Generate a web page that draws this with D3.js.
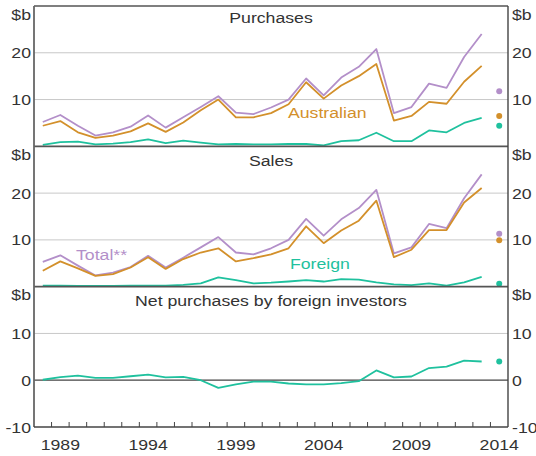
<!DOCTYPE html>
<html>
<head>
<meta charset="utf-8">
<script src="https://cdn.jsdelivr.net/npm/d3@7"></script>
<style>
  body { margin: 0; background: #fff; }
  svg text { font-family: "Liberation Sans", Arial, sans-serif; fill: #333; }
</style>
</head>
<body>
<div id="container"></div>
<script>
// annual data, plotted at mid-year; last dot is 2014
const years = [1988, 1989, 1990, 1991, 1992, 1993, 1994, 1995, 1996, 1997, 1998, 1999, 2000,
    2001, 2002, 2003, 2004, 2005, 2006, 2007, 2008, 2009, 2010, 2011, 2012, 2013];
const purchTotal = [5.2, 6.7, 4.4, 2.3, 3.0, 4.2, 6.6, 4.0, 6.2, 8.4, 10.7, 7.2, 6.9,
    8.3, 10.0, 14.5, 10.9, 14.7, 17.0, 20.8, 7.1, 8.4, 13.4, 12.5, 19.1, 24.0];
const purchAus = [4.4, 5.4, 3.0, 1.8, 2.3, 3.2, 4.9, 3.1, 5.1, 7.7, 10.0, 6.2, 6.2,
    7.1, 9.0, 13.7, 10.2, 13.0, 15.0, 17.6, 5.5, 6.5, 9.5, 9.1, 13.8, 17.2];
const purchFor = [0.3, 0.9, 1.0, 0.4, 0.6, 0.9, 1.5, 0.7, 1.2, 0.8, 0.4, 0.5, 0.4,
    0.4, 0.5, 0.5, 0.2, 1.1, 1.3, 2.9, 1.1, 1.1, 3.4, 3.0, 5.0, 6.1];
const salesTotal = [5.3, 6.7, 4.5, 2.4, 3.0, 4.2, 6.6, 4.1, 6.2, 8.4, 10.6, 7.3, 6.9,
    8.2, 10.0, 14.5, 10.9, 14.4, 16.8, 20.7, 7.1, 8.4, 13.4, 12.5, 18.9, 24.0];
const salesAus = [3.4, 5.4, 3.9, 2.3, 2.7, 4.1, 6.3, 3.8, 5.9, 7.3, 8.2, 5.4, 6.1,
    6.9, 8.2, 12.9, 9.3, 12.0, 14.1, 18.4, 6.3, 7.9, 12.1, 12.1, 18.0, 21.1];
const salesFor = [0.2, 0.2, 0.15, 0.15, 0.15, 0.2, 0.2, 0.2, 0.4, 0.7, 2.0, 1.4, 0.7,
    0.85, 1.1, 1.4, 1.1, 1.6, 1.5, 0.9, 0.5, 0.35, 0.7, 0.2, 0.9, 2.1];
const netFor = [0.1, 0.65, 1.0, 0.5, 0.5, 0.85, 1.2, 0.6, 0.7, 0, -1.65, -0.9, -0.3,
    -0.3, -0.7, -0.9, -0.9, -0.6, -0.2, 2.1, 0.6, 0.8, 2.6, 2.9, 4.2, 4.0];
const dotYear = 2014;
const purchDots = [11.8, 6.5, 4.4];   // total, australian, foreign
const salesDots = [11.3, 9.9, 0.6];
const netDots = [4.0];
const xTickYears = [1989, 1990, 1991, 1992, 1993, 1994, 1995, 1996, 1997, 1998, 1999, 2000, 2001,
    2002, 2003, 2004, 2005, 2006, 2007, 2008, 2009, 2010, 2011, 2012, 2013, 2014];
const xLabelYears = [1989, 1994, 1999, 2004, 2009, 2014];

const PURPLE = "#b38fc9", ORANGE = "#d3902b", GREEN = "#1fc19e";
const W = 536, H = 456;
const plotL = 34, plotR = 508, plotT = 6, plotB = 427;
const panelH = (plotB - plotT) / 3;
const SX = 1.14; // text in the picture is a bit wide

const svg = d3.select("#container").append("svg")
    .attr("width", W).attr("height", H);

const x = d3.scaleLinear().domain([1988, 2015]).range([plotL, plotR]);

function txt(g, s, px, py, anchor, color) {
    return g.append("text")
        .attr("transform", `translate(${px},${py}) scale(${SX},1)`)
        .attr("text-anchor", anchor || "start")
        .style("font-size", "15.5px")
        .style("fill", color || "#333")
        .text(s);
}

const panels = [
    { title: "Purchases", domain: [0, 30], ticks: [10, 20], labels: [10, 20],
      series: [[purchTotal, PURPLE], [purchAus, ORANGE], [purchFor, GREEN]], dots: purchDots, titleY: 17 },
    { title: "Sales", domain: [0, 30], ticks: [10, 20], labels: [10, 20],
      series: [[salesTotal, PURPLE], [salesAus, ORANGE], [salesFor, GREEN]], dots: salesDots, titleY: 20 },
    { title: "Net purchases by foreign investors", domain: [-10, 20], ticks: [10], labels: [-10, 0, 10],
      series: [[netFor, GREEN]], dots: netDots, titleY: 19 }
];

panels.forEach((p, k) => {
    const y0 = plotT + k * panelH, y1 = y0 + panelH;
    const y = d3.scaleLinear().domain(p.domain).range([y1, y0]);
    const g = svg.append("g");

    // grid
    g.selectAll("line.grid").data(p.ticks).enter().append("line")
        .attr("x1", plotL).attr("x2", plotR)
        .attr("y1", d => y(d)).attr("y2", d => y(d))
        .attr("stroke", "#c8c8c8").attr("stroke-width", 1);
    if (p.domain[0] < 0) {
        g.append("line").attr("x1", plotL).attr("x2", plotR)
            .attr("y1", y(0)).attr("y2", y(0))
            .attr("stroke", "#444").attr("stroke-width", 1.2);
    }

    // y labels both sides
    p.labels.forEach(v => {
        txt(g, String(v), plotL - 3, y(v) + 5.5, "end");
        txt(g, String(v), plotR + 4, y(v) + 5.5, "start");
    });
    txt(g, "$b", plotL - 3, y0 + 13.5, "end");
    txt(g, "$b", plotR + 4, y0 + 13.5, "start");

    // lines
    const line = d3.line().x((d, i) => x(years[i] + 0.5)).y(d => y(d));
    p.series.forEach(([vals, col]) => {
        g.append("path").datum(vals)
            .attr("d", line)
            .attr("fill", "none")
            .attr("stroke", col)
            .attr("stroke-width", 1.8)
            .attr("stroke-linejoin", "round");
    });
    const dotCols = p.series.map(s => s[1]);
    g.selectAll("circle").data(p.dots).enter().append("circle")
        .attr("cx", x(dotYear + 0.5)).attr("cy", d => y(d))
        .attr("r", 3).attr("fill", (d, i) => dotCols[i]);

    txt(g, p.title, (plotL + plotR) / 2, y0 + p.titleY, "middle");

    // panel frame top
    g.append("line").attr("x1", plotL).attr("x2", plotR)
        .attr("y1", y0).attr("y2", y0)
        .attr("stroke", "#555").attr("stroke-width", k === 0 ? 1.4 : 1.8);
});

// series labels
txt(svg, "Australian", 288, 118, "start", ORANGE);
txt(svg, "Total**", 76, 260, "start", PURPLE);
txt(svg, "Foreign", 290, 269, "start", GREEN);

// outer frame
svg.append("line").attr("x1", plotL).attr("x2", plotL).attr("y1", plotT).attr("y2", plotB)
    .attr("stroke", "#666").attr("stroke-width", 1.8);
svg.append("line").attr("x1", plotR).attr("x2", plotR).attr("y1", plotT).attr("y2", plotB)
    .attr("stroke", "#444").attr("stroke-width", 1.4);
svg.append("line").attr("x1", plotL).attr("x2", plotR).attr("y1", plotB).attr("y2", plotB)
    .attr("stroke", "#444").attr("stroke-width", 1.4);

// x ticks (inward) and labels
svg.selectAll("line.xt").data(xTickYears).enter().append("line")
    .attr("x1", d => x(d)).attr("x2", d => x(d))
    .attr("y1", plotB).attr("y2", plotB - 5)
    .attr("stroke", "#444").attr("stroke-width", 1);
xLabelYears.forEach(yr => txt(svg, String(yr), x(yr + 0.5), 450, "middle"));
</script>
</body>
</html>
